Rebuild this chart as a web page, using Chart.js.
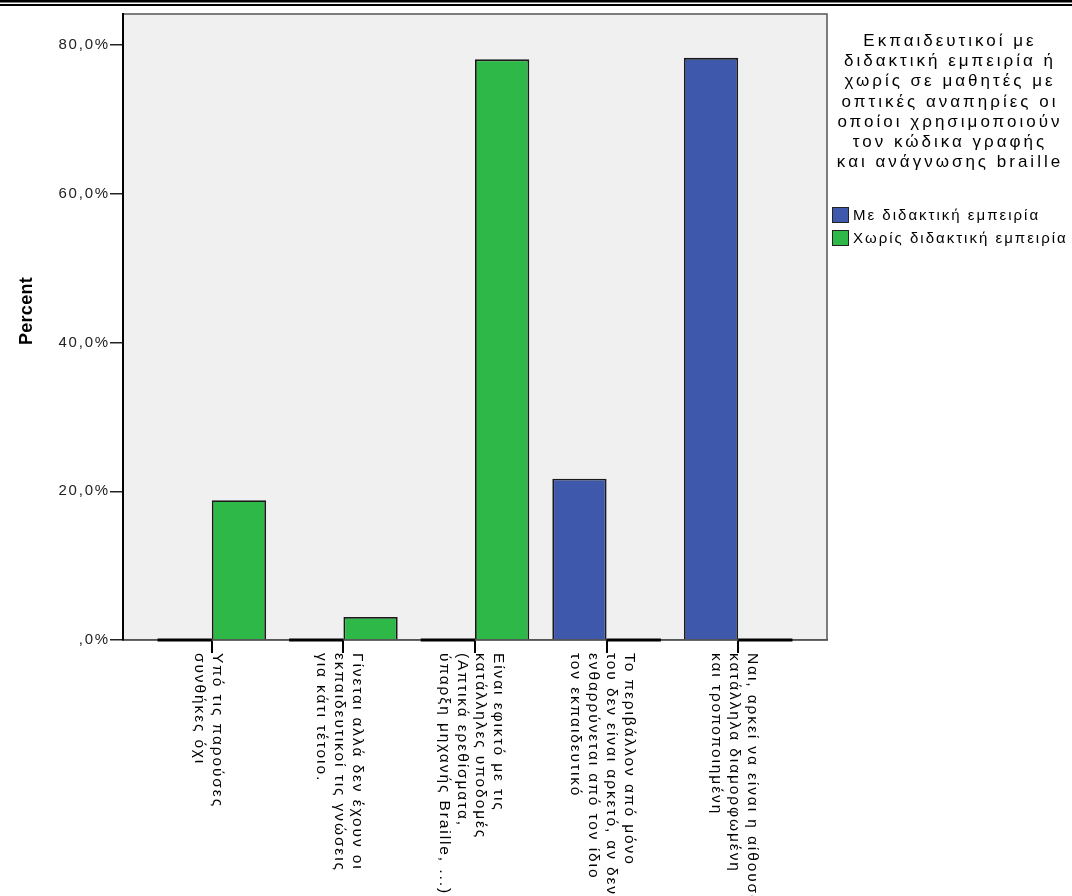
<!DOCTYPE html>
<html>
<head>
<meta charset="utf-8">
<script src="https://cdn.jsdelivr.net/npm/chart.js@4.4.1/dist/chart.umd.min.js"></script>
<style>
  html, body { margin: 0; padding: 0; background: #fff; }
  #wrap { width: 1072px; height: 896px; position: relative; }
</style>
</head>
<body>
<div id="wrap"><canvas id="myChart"></canvas></div>
<script>
// categories (each label broken into its lines as in the picture)
const categories = [
  ['Υπό τις παρούσες', 'συνθήκες όχι'],
  ['Γίνεται αλλά δεν έχουν οι', 'εκπαιδευτικοί τις γνώσεις', 'για κάτι τέτοιο.'],
  ['Είναι εφικτό με τις', 'κατάλληλες υποδομές', '(Απτικά ερεθίσματα,', 'ύπαρξη μηχανής Braille, ...)'],
  ['Το περιβάλλον από μόνο', 'του δεν είναι αρκετό, αν δεν', 'ενθαρρύνεται από τον ίδιο', 'τον εκπαιδευτικό'],
  ['Ναι, αρκεί να είναι η αίθουσα', 'κατάλληλα διαμορφωμένη', 'και τροποποιημένη']
];
const seriesNames = ['Με διδακτική εμπειρία', 'Χωρίς διδακτική εμπειρία'];
const withExperience = [0, 0, 0, 21.7, 78.3];
const withoutExperience = [18.8, 3.1, 78.1, 0, 0];
const yTicks = [0, 20, 40, 60, 80];
const legendTitle = [
  'Εκπαιδευτικοί με', 'διδακτική εμπειρία ή', 'χωρίς σε μαθητές με',
  'οπτικές αναπηρίες οι', 'οποίοι χρησιμοποιούν', 'τον κώδικα γραφής',
  'και ανάγνωσης braille'
];
const yTitle = 'Percent';

const colors = ['#3e58ac', '#2eb848'];
const FONT = '"Liberation Sans", Arial, sans-serif';

function toPoints(values) {
  return values.map((v, i) => ({x: i, y: v}));
}

const extras = {
  id: 'extras',
  beforeDraw(chart) {
    const ctx = chart.ctx;
    const a = chart.chartArea;
    ctx.save();
    ctx.fillStyle = '#fff';
    ctx.fillRect(0, 0, chart.width, chart.height);
    // double rule along the top
    ctx.fillStyle = '#000';
    ctx.fillRect(0, 0, chart.width, 2.5);
    ctx.fillRect(0, 4, chart.width, 2);
    // plot background and frame
    ctx.fillStyle = '#f0f0f0';
    ctx.fillRect(a.left, a.top, a.right - a.left, a.bottom - a.top);
    ctx.strokeStyle = '#555';
    ctx.lineWidth = 1.5;
    ctx.strokeRect(a.left, a.top, a.right - a.left, a.bottom - a.top);
    ctx.restore();
    ctx.letterSpacing = '1.8px';
  },
  afterDraw(chart) {
    const ctx = chart.ctx;
    const xs = chart.scales.x;
    ctx.letterSpacing = '0px';

    // zero-valued bars show as a dark line on the baseline
    ctx.save();
    ctx.fillStyle = '#000';
    chart.data.datasets.forEach((ds, d) => {
      chart.getDatasetMeta(d).data.forEach((el, i) => {
        if (ds.data[i].y === 0) {
          ctx.fillRect(el.x - el.width / 2, el.base - 1.5, el.width, 3);
        }
      });
    });
    ctx.restore();

    // category labels, turned to read downwards
    ctx.save();
    ctx.fillStyle = '#000';
    ctx.font = '15.5px ' + FONT;
    ctx.letterSpacing = '1.9px';
    ctx.textAlign = 'left';
    ctx.textBaseline = 'middle';
    const lh = 18;
    categories.forEach((lines, i) => {
      const cx = xs.getPixelForValue(i) - 4;
      lines.forEach((t, j) => {
        const x = cx + ((lines.length - 1) / 2 - j) * lh;
        ctx.save();
        ctx.translate(x, 653);
        ctx.rotate(Math.PI / 2);
        ctx.fillText(t, 0, 0);
        ctx.restore();
      });
    });
    ctx.restore();

    // y axis title
    ctx.save();
    ctx.fillStyle = '#000';
    ctx.font = 'bold 18px ' + FONT;
    ctx.letterSpacing = '0.3px';
    ctx.textAlign = 'center';
    ctx.textBaseline = 'middle';
    ctx.translate(27, 311);
    ctx.rotate(-Math.PI / 2);
    ctx.fillText(yTitle, 0, 0);
    ctx.restore();

    // legend
    ctx.save();
    ctx.fillStyle = '#000';
    ctx.font = '17px ' + FONT;
    ctx.letterSpacing = '3px';
    ctx.textAlign = 'center';
    ctx.textBaseline = 'alphabetic';
    legendTitle.forEach((t, j) => {
      ctx.fillText(t, 950, 46 + j * 20.2);
    });
    ctx.font = '15px ' + FONT;
    ctx.letterSpacing = '2px';
    ctx.textAlign = 'left';
    ctx.textBaseline = 'middle';
    seriesNames.forEach((name, k) => {
      const cy = 215 + k * 23;
      ctx.fillStyle = colors[k];
      ctx.fillRect(832, cy - 8, 17, 16);
      ctx.strokeStyle = '#222';
      ctx.lineWidth = 1;
      ctx.strokeRect(832.5, cy - 7.5, 16, 15);
      ctx.fillStyle = '#000';
      ctx.fillText(name, 853, cy + 1);
    });
    ctx.restore();
  }
};

const ctx = document.getElementById('myChart');

new Chart(ctx, {
  type: 'bar',
  data: {
    datasets: [
      {
        label: seriesNames[0],
        data: toPoints(withExperience),
        backgroundColor: colors[0],
        borderColor: '#1a1a1a',
        borderWidth: 1.8,
        borderSkipped: 'start'
      },
      {
        label: seriesNames[1],
        data: toPoints(withoutExperience),
        backgroundColor: colors[1],
        borderColor: '#1a1a1a',
        borderWidth: 1.8,
        borderSkipped: 'start'
      }
    ]
  },
  options: {
    responsive: true,
    maintainAspectRatio: false,
    animation: false,
    devicePixelRatio: 1,
    layout: { padding: { top: 14, right: 245, bottom: 0, left: 0 } },
    categoryPercentage: 0.825,
    barPercentage: 1,
    plugins: {
      legend: { display: false },
      tooltip: { enabled: false }
    },
    scales: {
      x: {
        type: 'linear',
        offset: false,
        min: -0.675,
        max: 4.675,
        afterFit(scale) { scale.height = 256; },
        afterBuildTicks(scale) { scale.ticks = categories.map((c, i) => ({value: i})); },
        ticks: { display: false },
        grid: { offset: false, drawOnChartArea: false, tickLength: 13, color: '#000', lineWidth: 2 },
        border: { color: '#555', width: 1.5 }
      },
      y: {
        min: 0,
        max: 84.2,
        afterFit(scale) { scale.width = 123; },
        afterBuildTicks(scale) { scale.ticks = yTicks.map(v => ({value: v})); },
        ticks: {
          padding: 0,
          color: '#222',
          font: { family: FONT, size: 15 },
          callback: v => v === 0 ? ',0%' : v.toFixed(1).replace('.', ',') + '%'
        },
        grid: { drawOnChartArea: false, tickLength: 13, color: '#222', lineWidth: 1.5 },
        border: { color: '#000', width: 2 }
      }
    }
  },
  plugins: [extras]
});
</script>
</body>
</html>
